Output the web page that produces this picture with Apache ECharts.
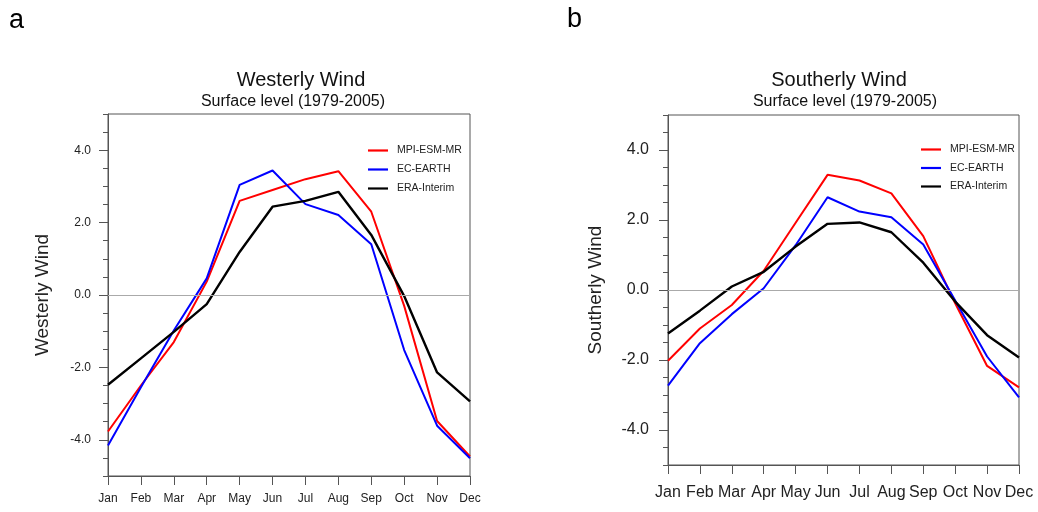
<!DOCTYPE html>
<html>
<head>
<meta charset="utf-8">
<script src="https://cdn.jsdelivr.net/npm/echarts@6/dist/echarts.min.js"></script>
<style>
  html, body { margin: 0; padding: 0; background: #fff; }
  #chart { width: 1038px; height: 512px; }
</style>
</head>
<body>
<div id="chart"></div>
<script>
// Monthly climatology of surface winds, 1979-2005
const months = ['Jan', 'Feb', 'Mar', 'Apr', 'May', 'Jun', 'Jul', 'Aug', 'Sep', 'Oct', 'Nov', 'Dec'];
const seriesNames = ['MPI-ESM-MR', 'EC-EARTH', 'ERA-Interim'];
const seriesColors = ['#ff0000', '#0000ff', '#000000'];

// Westerly (zonal) wind
const westMPI = [-3.77, -2.50, -1.30, 0.37, 2.60, 2.90, 3.20, 3.42, 2.30, -0.30, -3.48, -4.46];
const westEC  = [-4.16, -2.55, -0.98, 0.46, 3.04, 3.44, 2.51, 2.21, 1.40, -1.52, -3.61, -4.51];
const westERA = [-2.48, -1.75, -1.02, -0.25, 1.19, 2.44, 2.60, 2.85, 1.66, -0.03, -2.14, -2.94];

// Southerly (meridional) wind
const southMPI = [-2.02, -1.10, -0.43, 0.55, 1.92, 3.29, 3.13, 2.76, 1.54, -0.38, -2.17, -2.78];
const southEC  = [-2.73, -1.52, -0.69, 0.05, 1.28, 2.65, 2.24, 2.08, 1.30, -0.30, -1.90, -3.07];
const southERA = [-1.24, -0.59, 0.10, 0.52, 1.24, 1.89, 1.93, 1.65, 0.78, -0.33, -1.29, -1.93];

// Axis tick values
const yMajorTicks = [-4, -2, 0, 2, 4];
const yRange = [-5, 5];

const FONT = '"Liberation Sans", Arial, Helvetica, sans-serif';
const AXIS_COLOR = '#555';
const LABEL_COLOR = '#222';

const chart = echarts.init(document.getElementById('chart'), null, { renderer: 'canvas' });

const grids = [
  { left: 108, top: 114, width: 362, height: 362 },
  { left: 668, top: 115, width: 351, height: 350 }
];
const fontSizes = [12, 16];
const labelMargins = [[17, 17], [20, 19]]; // [x, y]
const nameGaps = [56, 63];
const yNames = ['Westerly Wind', 'Southerly Wind'];

const xAxes = [], yAxes = [];
grids.forEach((g, i) => {
  xAxes.push({
    type: 'category', gridIndex: i, data: months, boundaryGap: false, position: 'bottom',
    axisLine: { show: true, onZero: false, lineStyle: { color: AXIS_COLOR, width: 1 } },
    axisTick: { show: true, length: 9, inside: false, lineStyle: { color: AXIS_COLOR } },
    axisLabel: { fontFamily: FONT, fontSize: fontSizes[i], color: LABEL_COLOR, margin: labelMargins[i][0], interval: 0 },
    splitLine: { show: false }
  });
  // labelled axis with major ticks
  yAxes.push({
    type: 'value', gridIndex: i, position: 'left', offset: 0,
    min: yRange[0], max: yRange[1], interval: 0.5,
    name: yNames[i], nameLocation: 'middle', nameGap: nameGaps[i],
    nameTextStyle: { fontFamily: FONT, fontSize: 19, color: LABEL_COLOR },
    axisLine: { show: true, onZero: false, lineStyle: { color: AXIS_COLOR, width: 1 } },
    axisTick: { show: true, length: 9, inside: false, customValues: yMajorTicks, lineStyle: { color: AXIS_COLOR } },
    axisLabel: {
      fontFamily: FONT, fontSize: fontSizes[i], color: LABEL_COLOR, margin: labelMargins[i][1],
      customValues: yMajorTicks,
      formatter: v => v.toFixed(1)
    },
    splitLine: { show: false }
  });
  // minor ticks every 0.5
  yAxes.push({
    type: 'value', gridIndex: i, position: 'left', offset: 0,
    min: yRange[0], max: yRange[1], interval: 0.5,
    axisLine: { show: false, onZero: false },
    axisTick: { show: true, length: 5, inside: false, lineStyle: { color: AXIS_COLOR } },
    axisLabel: { show: false },
    splitLine: { show: false }
  });
});

function lineSeries(name, data, color, gi) {
  return {
    name, type: 'line', data, xAxisIndex: gi, yAxisIndex: gi * 2,
    symbol: 'none', smooth: false,
    lineStyle: { color, width: color === '#000000' ? 2.4 : 2 },
    itemStyle: { color },
    z: 3
  };
}

const zeroLine = {
  silent: true, symbol: ['none', 'none'], label: { show: false },
  lineStyle: { color: '#aaa', width: 1, type: 'solid' },
  data: [{ yAxis: 0 }]
};

const westSeries = [westMPI, westEC, westERA].map((d, k) => lineSeries(seriesNames[k], d, seriesColors[k], 0));
const southSeries = [southMPI, southEC, southERA].map((d, k) => lineSeries(seriesNames[k], d, seriesColors[k], 1));
westSeries[0].markLine = zeroLine;
southSeries[0].markLine = zeroLine;

function legendAt(left, top, gap) {
  return {
    data: seriesNames, orient: 'vertical', left, top, padding: 0,
    icon: 'rect', itemWidth: 20, itemHeight: 2.2, itemGap: gap,
    selectedMode: false,
    textStyle: { fontFamily: FONT, fontSize: 10.5, color: LABEL_COLOR, lineHeight: 10, padding: [0, 0, 0, 4] }
  };
}

const titleText = (text, x, y, size) => ({
  type: 'text', x, y,
  style: { text, fontFamily: FONT, fontSize: size, fill: '#111', textAlign: 'center', textVerticalAlign: 'middle' }
});

chart.setOption({
  animation: false,
  grid: grids.map(g => Object.assign({ show: true, borderColor: AXIS_COLOR, borderWidth: 1, backgroundColor: 'transparent' }, g)),
  xAxis: xAxes,
  yAxis: yAxes,
  legend: [legendAt(368, 145, 8.0), legendAt(921, 144, 7.5)],
  series: westSeries.concat(southSeries),
  graphic: [
    { type: 'text', x: 9, y: 21, style: { text: 'a', fontFamily: FONT, fontSize: 27, fill: '#000', textVerticalAlign: 'middle' } },
    { type: 'text', x: 567, y: 20, style: { text: 'b', fontFamily: FONT, fontSize: 27, fill: '#000', textVerticalAlign: 'middle' } },
    titleText('Westerly Wind', 301, 80, 20),
    titleText('Surface level (1979-2005)', 293, 102, 16),
    titleText('Southerly Wind', 839, 80, 20),
    titleText('Surface level (1979-2005)', 845, 102, 16)
  ]
});
</script>
</body>
</html>
